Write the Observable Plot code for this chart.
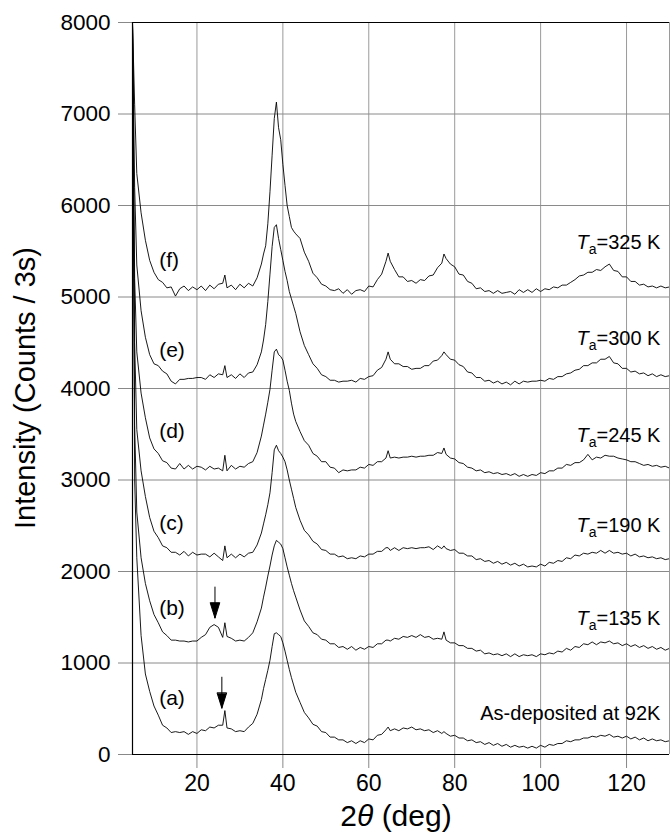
<!DOCTYPE html>
<html>
<head>
<meta charset="utf-8">
<script src="https://cdn.jsdelivr.net/npm/d3@7"></script>
<script src="https://cdn.jsdelivr.net/npm/@observablehq/plot@0.6"></script>
<style>
  html, body { margin: 0; padding: 0; background: #fff; }
  #chart { width: 670px; height: 835px; }
</style>
</head>
<body>
<div id="chart"></div>
<script>
// 2θ sampling positions (deg)
const xs = [5, 5.5, 6,
  7, 8, 9, 10, 11, 12, 13, 14, 15, 16, 17, 18, 19, 20, 21, 22, 23, 24, 25, 26,
  26.5,
  27, 28, 29, 30, 31, 32, 33, 34, 35,
  35.5, 36, 36.5, 37, 37.5, 38, 38.5, 39, 39.5, 40, 40.5, 41, 41.5, 42, 42.5, 43,
  44, 45, 46, 47, 48, 49, 50, 51, 52, 53, 54, 55, 56, 57, 58, 59, 60, 61, 62, 63, 64,
  64.5,
  65, 66, 67, 68, 69, 70, 71, 72, 73, 74, 75, 76, 77,
  77.5,
  78, 79, 80, 81, 82, 83, 84, 85, 86, 87, 88, 89, 90, 91, 92, 93, 94, 95, 96, 97,
  98, 99, 100, 101, 102, 103, 104, 105, 106, 107, 108, 109, 110, 111, 112,
  113, 114, 115, 116, 117, 118, 119, 120, 121, 122, 123, 124, 125, 126, 127, 128, 129, 130];

// (a) as-deposited at 92 K
const seriesA = [8000, 3000, 2150,
  1300, 880, 690, 530, 430, 320, 290, 240, 250, 240, 250, 220, 250, 230, 270, 260, 300, 290, 320, 320,
  480,
  290, 280, 250, 260, 250, 300, 340, 440, 600,
  720, 820, 920, 1030, 1180, 1320, 1330, 1310, 1290, 1220, 1130, 1030, 930, 840, 760, 680,
  570, 460, 400, 330, 310, 250, 240, 190, 190, 160, 160, 130, 150, 120, 150, 130, 170, 160, 210, 220, 270,
  300,
  260, 280, 260, 290, 280, 300, 270, 280, 260, 270, 240, 260, 230,
  250,
  230, 200, 210, 180, 180, 150, 160, 130, 140, 110,
  130, 100, 120, 90, 110, 80, 100, 80, 90, 70,
  90, 70, 100, 80, 110, 100, 120, 120, 150, 140,
  160, 160, 180, 180, 200,
  190, 210, 200, 220, 190, 200, 180, 200, 170, 190, 160, 180, 150, 170, 150, 160, 140, 150];

// (b) Ta = 135 K
const seriesB = [8000, 3600, 2650,
  2150, 1870, 1680, 1530, 1440, 1340, 1300, 1250, 1250, 1240, 1240, 1230, 1240, 1240, 1280, 1310, 1390, 1420, 1390, 1280,
  1440,
  1290, 1270, 1240, 1250, 1240, 1280, 1330, 1450, 1600,
  1720, 1830, 1950, 2060, 2180, 2280, 2340, 2320, 2300, 2250, 2150, 2050, 1960, 1870, 1790, 1720,
  1580, 1460, 1400, 1330, 1310, 1260, 1250, 1210, 1210, 1170, 1180, 1150, 1180, 1140, 1170, 1150, 1180, 1170, 1210, 1210, 1250,
  1250,
  1240, 1270, 1260, 1290, 1280, 1300, 1280, 1310, 1280, 1290, 1260, 1270, 1260,
  1340,
  1250, 1220, 1220, 1190, 1190, 1160, 1160, 1130, 1140, 1100,
  1110, 1090, 1100, 1080, 1100, 1070, 1100, 1070, 1090, 1080,
  1090, 1070, 1100, 1090, 1110, 1100, 1130, 1120, 1160, 1140,
  1180, 1170, 1210, 1200, 1230,
  1200, 1230, 1220, 1240, 1210, 1220, 1190, 1210, 1180, 1200, 1170, 1190, 1160, 1180, 1150, 1170, 1140, 1160];

// (c) Ta = 190 K
const seriesC = [8000, 4500, 3550,
  3100, 2820, 2590, 2440, 2370, 2280, 2260, 2210, 2210, 2180, 2220, 2170, 2210, 2180, 2190, 2190, 2160, 2200, 2160, 2120,
  2280,
  2150, 2190, 2150, 2190, 2160, 2200, 2210, 2290, 2420,
  2520, 2620, 2730, 2860, 3080, 3330, 3380, 3320, 3290, 3250, 3200, 3110, 3000, 2900, 2800, 2700,
  2560, 2450, 2400, 2330, 2300, 2240, 2230, 2190, 2190, 2160, 2170, 2140, 2150, 2140, 2170, 2160, 2190, 2190, 2220, 2220, 2260,
  2260,
  2230, 2260, 2230, 2260, 2250, 2260, 2250, 2260, 2260, 2270, 2240, 2280, 2250,
  2280,
  2250, 2230, 2240, 2200, 2200, 2170, 2170, 2130, 2140, 2110,
  2120, 2090, 2110, 2080, 2100, 2070, 2090, 2060, 2080, 2050,
  2060, 2050, 2080, 2060, 2100, 2090, 2120, 2110, 2150, 2140,
  2180, 2170, 2200, 2190, 2210,
  2200, 2230, 2200, 2230, 2200, 2210, 2190, 2200, 2170, 2190, 2160, 2170, 2150, 2160, 2140, 2150, 2130, 2140];

// (d) Ta = 245 K
const seriesD = [8000, 5200, 4400,
  3950, 3680, 3460, 3340, 3290, 3210, 3190, 3130, 3120, 3180, 3120, 3160, 3120, 3150, 3140, 3110, 3150, 3120, 3130, 3100,
  3270,
  3100, 3160, 3120, 3150, 3140, 3180, 3200, 3300, 3480,
  3600, 3720, 3850, 3990, 4200, 4400, 4430, 4370, 4350, 4310, 4200, 4080, 3980, 3840, 3720, 3640,
  3530, 3430, 3380, 3290, 3260, 3200, 3200, 3140, 3130, 3080, 3110, 3100, 3110, 3110, 3140, 3130, 3170, 3160, 3200, 3200, 3240,
  3320,
  3240, 3250, 3240, 3250, 3250, 3260, 3250, 3260, 3260, 3270, 3270, 3300, 3290,
  3350,
  3280, 3240, 3230, 3190, 3180, 3140, 3130, 3100, 3110, 3080,
  3090, 3070, 3080, 3060, 3070, 3050, 3070, 3040, 3060, 3040,
  3060, 3050, 3080, 3070, 3100, 3100, 3130, 3130, 3170, 3160,
  3190, 3190, 3220, 3280, 3220,
  3250, 3240, 3270, 3260, 3260, 3240, 3230, 3220, 3200, 3200, 3180, 3160, 3170, 3150, 3160, 3140, 3150, 3130];

// (e) Ta = 300 K
const seriesE = [8000, 6200, 5350,
  4850, 4560, 4370, 4270, 4250, 4190, 4160, 4080, 4050, 4100, 4100, 4110, 4110, 4120, 4120, 4100, 4150, 4120, 4160, 4150,
  4250,
  4120, 4150, 4110, 4160, 4120, 4170, 4180, 4260, 4400,
  4530, 4700, 4950, 5250, 5550, 5760, 5790, 5640, 5520, 5400, 5280, 5180, 5060, 4980, 4900, 4820,
  4620, 4470, 4370, 4270, 4220, 4150, 4130, 4090, 4090, 4070, 4080, 4080, 4090, 4070, 4110, 4100, 4130, 4140, 4200, 4230, 4320,
  4400,
  4320, 4270, 4270, 4240, 4240, 4210, 4220, 4220, 4250, 4250, 4300, 4310, 4360,
  4400,
  4370, 4320, 4310, 4260, 4240, 4180, 4170, 4120, 4120, 4080,
  4090, 4060, 4080, 4050, 4070, 4040, 4080, 4050, 4080, 4070,
  4080, 4080, 4090, 4080, 4110, 4100, 4130, 4130, 4160, 4170,
  4200, 4210, 4250, 4250, 4280,
  4280, 4320, 4320, 4350, 4280, 4270, 4220, 4220, 4180, 4190, 4160, 4170, 4140, 4160, 4130, 4150, 4130, 4140];

// (f) Ta = 325 K
const seriesF = [8000, 7100, 6350,
  5920, 5620, 5400, 5270, 5190, 5160, 5100, 5110, 5010, 5090, 5120, 5070, 5110, 5080, 5120, 5070, 5130, 5090, 5140, 5150,
  5240,
  5100, 5130, 5080, 5140, 5100, 5150, 5120, 5210, 5360,
  5470, 5560, 5800, 6150, 6550, 6950, 7130, 6850, 6720, 6450, 6220, 6000, 5880, 5760, 5720, 5690,
  5640, 5490, 5390, 5260, 5210, 5140, 5120, 5080, 5070, 5090, 5040, 5080, 5030, 5070, 5080, 5060, 5120, 5110, 5190, 5250, 5390,
  5480,
  5390, 5300, 5220, 5220, 5170, 5180, 5150, 5190, 5180, 5230, 5240, 5320, 5370,
  5470,
  5420, 5360, 5330, 5250, 5240, 5170, 5150, 5090, 5100, 5060,
  5070, 5040, 5070, 5040, 5050, 5060, 5030, 5080, 5050, 5080,
  5050, 5090, 5060, 5090, 5080, 5110, 5100, 5130, 5130, 5160,
  5190, 5230, 5240, 5270, 5270,
  5300, 5290, 5330, 5360, 5290, 5280, 5220, 5220, 5170, 5170, 5130, 5140, 5110, 5120, 5100, 5120, 5100, 5110];

const seriesKeys = ["a", "b", "c", "d", "e", "f"];
const curveLabels = ["(a)", "(b)", "(c)", "(d)", "(e)", "(f)"];
const curveLabelY = [612, 1596, 2525, 3530, 4415, 5400];
const curveLabelX = 11.2;
const tempLabels = ["As-deposited at 92K", "=135 K", "=190 K", "=245 K", "=300 K", "=325 K"];
const tempLabelY = [450, 1490, 2500, 3490, 4550, 5600];
const tempLabelX = 128;
const arrowX = [25.8, 24.2];
const arrowY = [845, 1830];
const xTicks = [20, 40, 60, 80, 100, 120];
const yTicks = [0, 1000, 2000, 3000, 4000, 5000, 6000, 7000, 8000];

const allSeries = [seriesA, seriesB, seriesC, seriesD, seriesE, seriesF];
const table = [];
allSeries.forEach((arr, k) => {
  if (arr.length !== xs.length) console.warn("length mismatch", seriesKeys[k], arr.length, xs.length);
  arr.forEach((v, i) => table.push({x: xs[i], y: v, s: seriesKeys[k]}));
});
const labelData = curveLabels.map((t, i) => ({t, x: curveLabelX, y: curveLabelY[i]}));
const arrowData = arrowX.map((x, i) => ({x, y: arrowY[i]}));

const arrowShape = {
  draw(context, l) {
    context.moveTo(0, 0);
    context.lineTo(0, -l);
    context.moveTo(-4.7, -l + 15);
    context.lineTo(0, -l);
    context.lineTo(4.7, -l + 15);
    context.closePath();
  }
};

const font = "'Liberation Sans', Arial, Helvetica, sans-serif";

const plot = Plot.plot({
  width: 670,
  height: 835,
  marginLeft: 132,
  marginRight: 1,
  marginTop: 22,
  marginBottom: 81,
  style: {fontFamily: font, color: "black", background: "white"},
  x: {domain: [5, 130]},
  y: {domain: [0, 8000]},
  marks: [
    Plot.gridX(xTicks, {stroke: "#9a9a9a", strokeOpacity: 1, strokeWidth: 1}),
    Plot.gridY(yTicks.slice(1, -1), {stroke: "#8a8a8a", strokeOpacity: 1, strokeWidth: 1}),
    Plot.ruleX([130], {stroke: "#9a9a9a", strokeWidth: 1}),
    Plot.axisX({ticks: xTicks, tickSize: 14, tickPadding: 6, fontSize: 23, label: null, stroke: "#888", tickFormat: "d"}),
    Plot.axisY({ticks: yTicks, tickSize: 14, tickPadding: 8, fontSize: 22.5, label: null, stroke: "#888", tickFormat: "d"}),
    Plot.ruleX([5], {stroke: "black", strokeWidth: 1.2}),
    Plot.ruleY([0], {stroke: "black", strokeWidth: 1.2}),
    Plot.ruleY([8000], {stroke: "black", strokeWidth: 1.2}),
    Plot.line(table, {x: "x", y: "y", z: "s", stroke: "black", strokeWidth: 0.9, clip: true}),
    Plot.text(labelData, {x: "x", y: "y", text: "t", textAnchor: "start", fontSize: 21, fill: "black"}),
    Plot.vector(arrowData, {x: "x", y: "y", length: 31, rotate: 180, anchor: "start", shape: arrowShape, stroke: "black", fill: "black", strokeWidth: 1})
  ]
});

document.getElementById("chart").appendChild(plot);

const sx = plot.scale("x");
const sy = plot.scale("y");
const svg = d3.select(plot);

// Temperature labels on the right
tempLabels.forEach((t, i) => {
  const txt = svg.append("text")
    .attr("x", sx.apply(tempLabelX))
    .attr("y", sy.apply(tempLabelY[i]))
    .attr("dy", "0.35em")
    .attr("text-anchor", "end")
    .attr("font-family", font)
    .attr("font-size", 20)
    .attr("fill", "black");
  if (i === 0) {
    txt.text(t);
  } else {
    txt.append("tspan").attr("font-style", "italic").text("T");
    txt.append("tspan").attr("dy", 5).attr("font-size", 14).text("a");
    txt.append("tspan").attr("dy", -5).text(t);
  }
});

// Y axis title
svg.append("text")
  .attr("transform", "translate(25,388) rotate(-90)")
  .attr("text-anchor", "middle")
  .attr("dy", "0.35em")
  .attr("font-family", font)
  .attr("font-size", 29)
  .attr("fill", "black")
  .text("Intensity (Counts / 3s)");

// X axis title
const xt = svg.append("text")
  .attr("x", 396)
  .attr("y", 826)
  .attr("text-anchor", "middle")
  .attr("font-family", font)
  .attr("font-size", 30)
  .attr("fill", "black");
xt.append("tspan").text("2");
xt.append("tspan").attr("font-style", "italic").text("θ");
xt.append("tspan").text(" (deg)");
</script>
</body>
</html>
